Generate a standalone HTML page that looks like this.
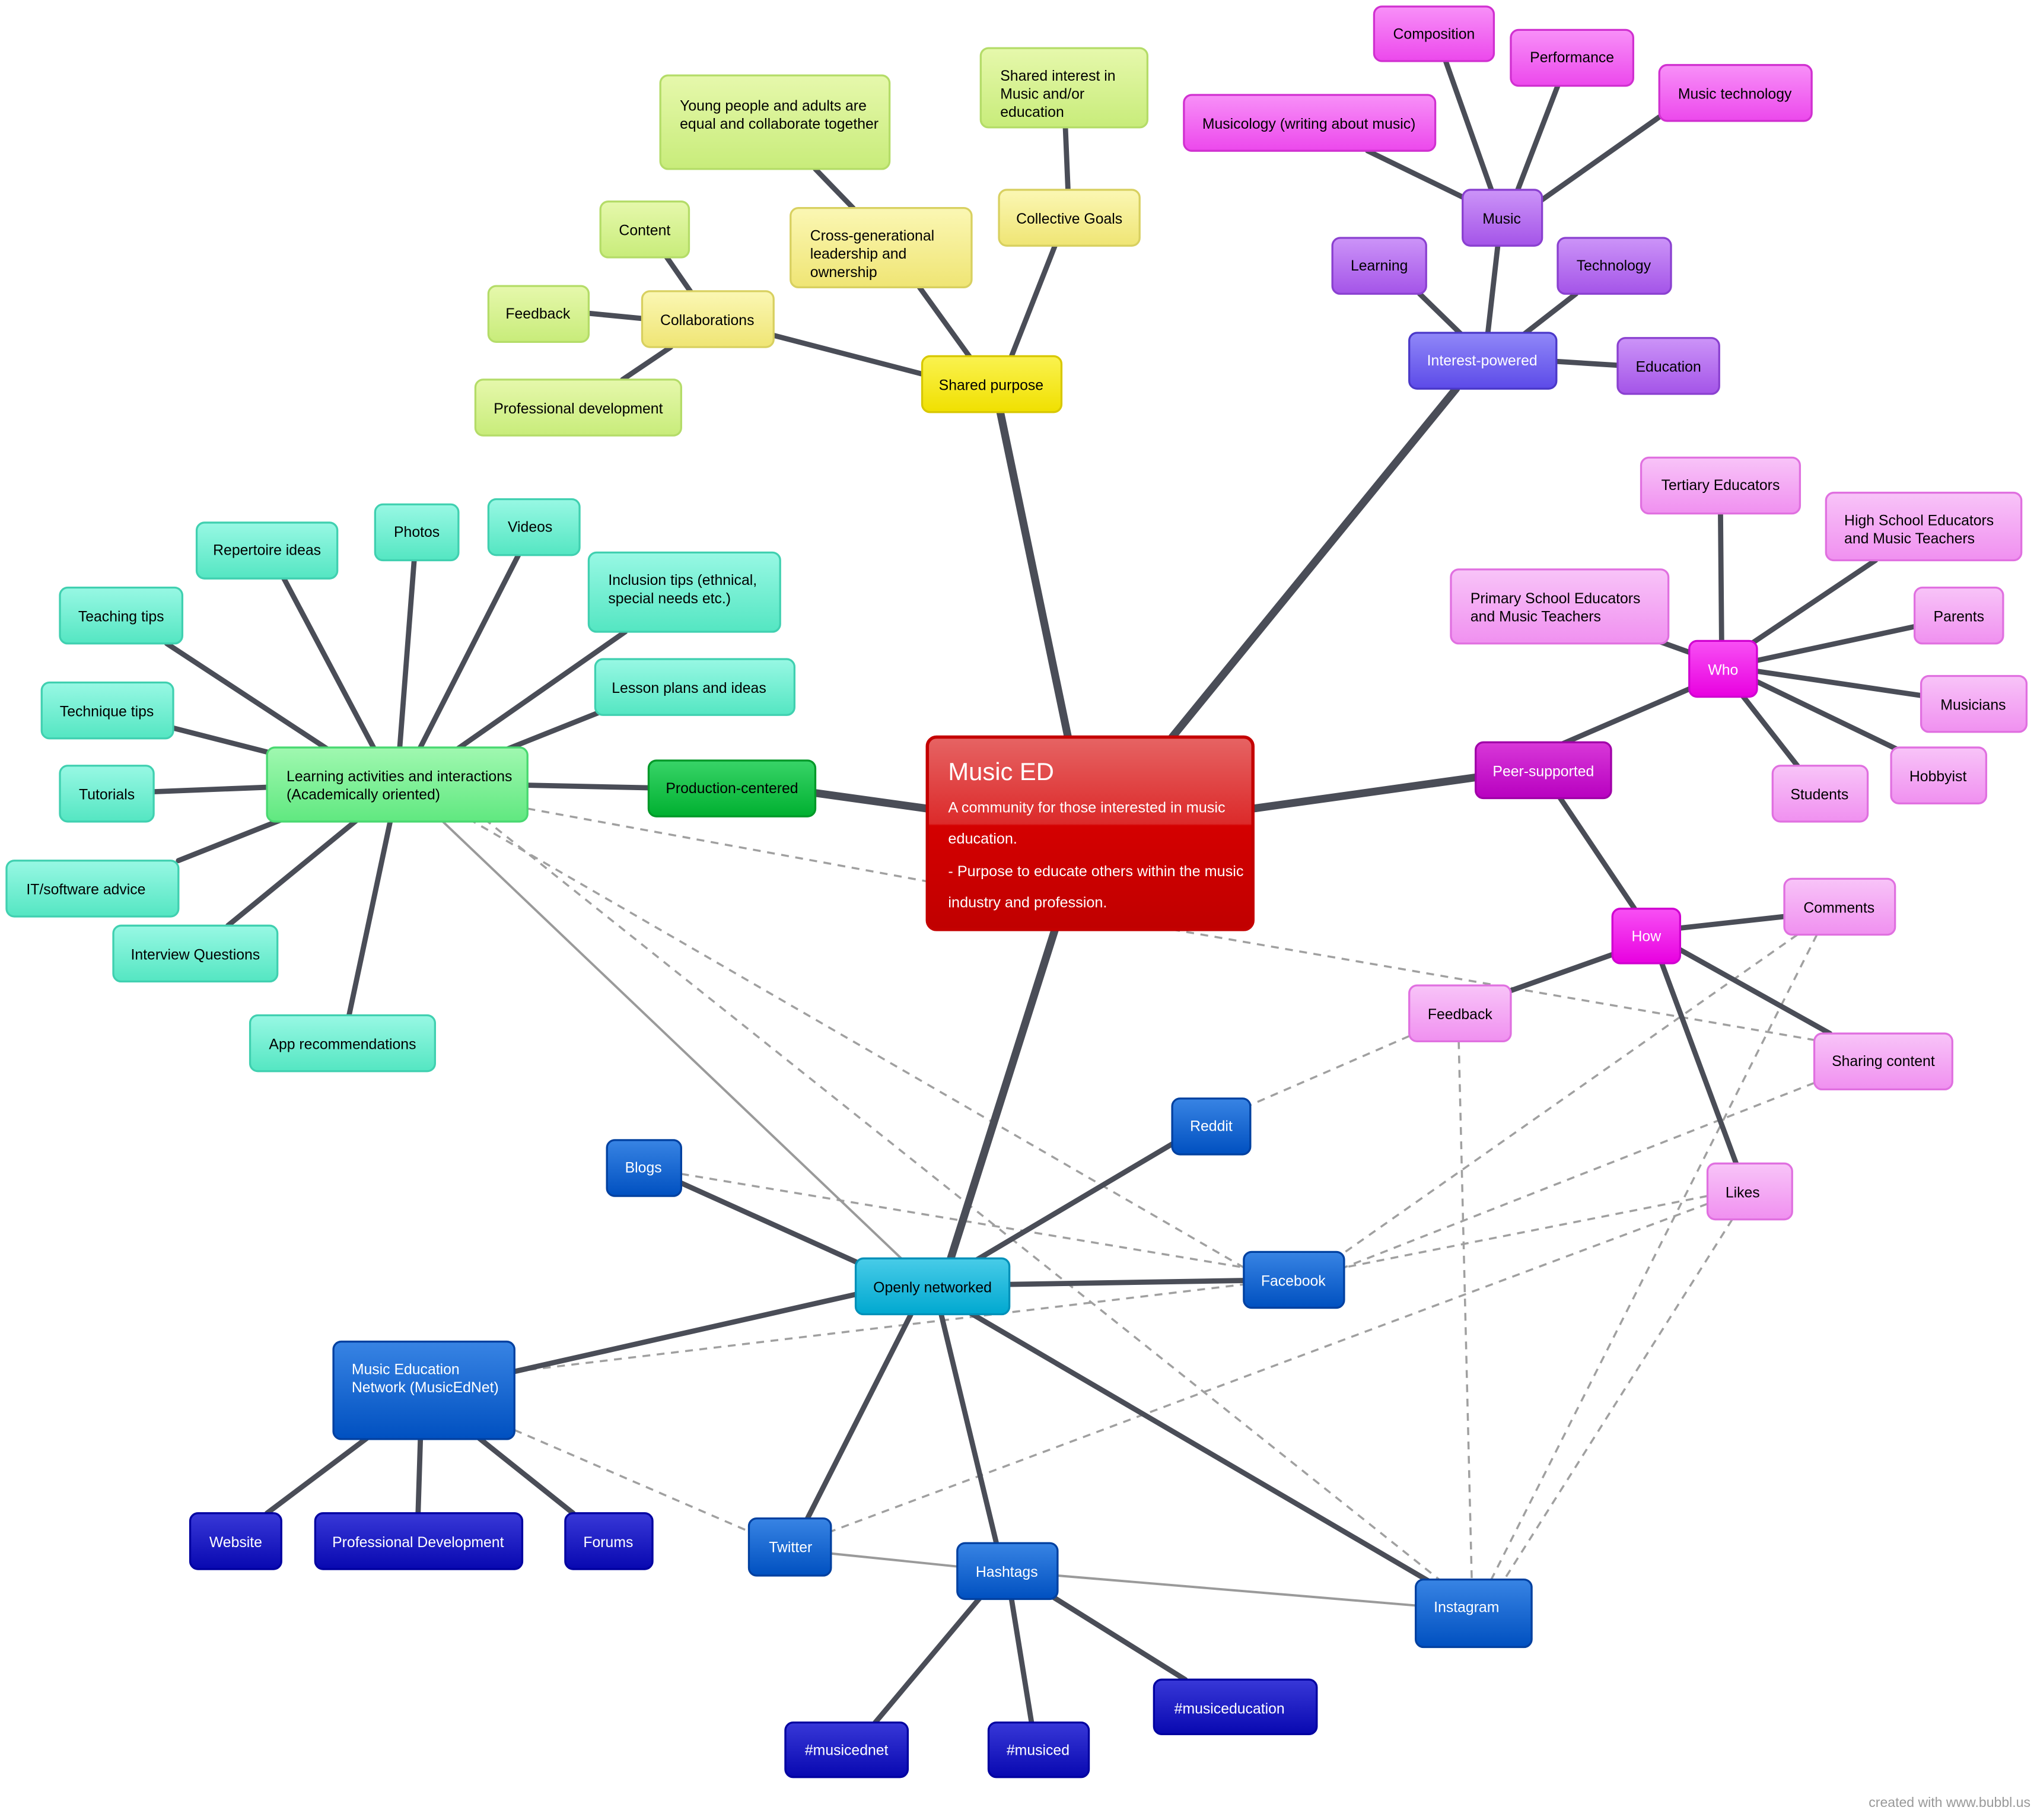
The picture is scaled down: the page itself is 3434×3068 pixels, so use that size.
<!DOCTYPE html>
<html><head><meta charset="utf-8"><style>
html,body{margin:0;padding:0;background:#fff;width:3434px;height:3068px;overflow:hidden}
svg{display:block}
text{font-family:"Liberation Sans",sans-serif;font-size:11.3px}
</style></head><body>
<svg width="3434" height="3068" viewBox="0 0 1564 1400" preserveAspectRatio="none">
<defs>
<linearGradient id="yel" x1="0" y1="0" x2="0" y2="1"><stop offset="0" stop-color="#fbf7b4"/><stop offset="1" stop-color="#efe574"/></linearGradient>
<linearGradient id="ybr" x1="0" y1="0" x2="0" y2="1"><stop offset="0" stop-color="#faf250"/><stop offset="1" stop-color="#f0e000"/></linearGradient>
<linearGradient id="lg" x1="0" y1="0" x2="0" y2="1"><stop offset="0" stop-color="#e6f8ac"/><stop offset="1" stop-color="#c8ec7a"/></linearGradient>
<linearGradient id="mag" x1="0" y1="0" x2="0" y2="1"><stop offset="0" stop-color="#f890f8"/><stop offset="1" stop-color="#ec48ec"/></linearGradient>
<linearGradient id="pur" x1="0" y1="0" x2="0" y2="1"><stop offset="0" stop-color="#cc94f8"/><stop offset="1" stop-color="#a454e8"/></linearGradient>
<linearGradient id="ip" x1="0" y1="0" x2="0" y2="1"><stop offset="0" stop-color="#9088f8"/><stop offset="1" stop-color="#5c4ae8"/></linearGradient>
<linearGradient id="pink" x1="0" y1="0" x2="0" y2="1"><stop offset="0" stop-color="#f8c4f8"/><stop offset="1" stop-color="#f090f0"/></linearGradient>
<linearGradient id="hot" x1="0" y1="0" x2="0" y2="1"><stop offset="0" stop-color="#f850f4"/><stop offset="1" stop-color="#e800e0"/></linearGradient>
<linearGradient id="peer" x1="0" y1="0" x2="0" y2="1"><stop offset="0" stop-color="#d838d8"/><stop offset="1" stop-color="#b800c0"/></linearGradient>
<linearGradient id="teal" x1="0" y1="0" x2="0" y2="1"><stop offset="0" stop-color="#98f8e4"/><stop offset="1" stop-color="#54e6c2"/></linearGradient>
<linearGradient id="lgr" x1="0" y1="0" x2="0" y2="1"><stop offset="0" stop-color="#a0f8b0"/><stop offset="1" stop-color="#60e880"/></linearGradient>
<linearGradient id="prod" x1="0" y1="0" x2="0" y2="1"><stop offset="0" stop-color="#38d468"/><stop offset="1" stop-color="#00b030"/></linearGradient>
<linearGradient id="blue" x1="0" y1="0" x2="0" y2="1"><stop offset="0" stop-color="#3884e4"/><stop offset="1" stop-color="#0050c0"/></linearGradient>
<linearGradient id="cyan" x1="0" y1="0" x2="0" y2="1"><stop offset="0" stop-color="#48cce8"/><stop offset="1" stop-color="#00a8d0"/></linearGradient>
<linearGradient id="db" x1="0" y1="0" x2="0" y2="1"><stop offset="0" stop-color="#3838d8"/><stop offset="1" stop-color="#0808b0"/></linearGradient>
<linearGradient id="red" x1="0" y1="0" x2="0" y2="1"><stop offset="0" stop-color="#e66464"/><stop offset="0.45" stop-color="#dc2a2a"/><stop offset="0.46" stop-color="#d40000"/><stop offset="1" stop-color="#c00000"/></linearGradient>
</defs>

<g stroke="#a0a0a0" stroke-width="1.6" fill="none" stroke-dasharray="6,5">
<line x1="405" y1="622" x2="712" y2="678"/>
<line x1="360" y1="630" x2="955" y2="975"/>
<line x1="372" y1="630" x2="1105" y2="1215"/>
<line x1="900" y1="715" x2="1393" y2="800"/>
<line x1="1082" y1="797" x2="960" y2="850"/>
<line x1="1120" y1="801" x2="1130" y2="1215"/>
<line x1="1380" y1="719" x2="1030" y2="965"/>
<line x1="1395" y1="719" x2="1145" y2="1215"/>
<line x1="1393" y1="833" x2="1032" y2="975"/>
<line x1="1311" y1="920" x2="1032" y2="975"/>
<line x1="1330" y1="938" x2="1155" y2="1215"/>
<line x1="1311" y1="926" x2="638" y2="1178"/>
<line x1="523" y1="903" x2="955" y2="975"/>
<line x1="395" y1="1055" x2="955" y2="988"/>
<line x1="395" y1="1100" x2="575" y2="1178"/>
</g>
<g stroke="#9a9a9a" stroke-width="1.8" fill="none">
<line x1="340" y1="632" x2="692" y2="968"/>
<line x1="638" y1="1195" x2="735" y2="1205"/>
<line x1="812" y1="1212" x2="1087" y2="1235"/>
</g>

<g stroke="#4a4d57" stroke-linecap="round" fill="none">
<g stroke-width="6">
<line x1="820" y1="567" x2="768" y2="317"/>
<line x1="900" y1="567" x2="1118" y2="299"/>
<line x1="962" y1="622" x2="1133" y2="598"/>
<line x1="712" y1="622" x2="626" y2="610"/>
<line x1="810" y1="715" x2="730" y2="968"/>
</g>
<g stroke-width="4">
<line x1="768" y1="296" x2="810" y2="189"/>
<line x1="760" y1="296" x2="706" y2="221"/>
<line x1="740" y1="296" x2="594" y2="258"/>
<line x1="820" y1="146" x2="818" y2="98"/>
<line x1="655" y1="160" x2="626" y2="130"/>
<line x1="530" y1="224" x2="512" y2="198"/>
<line x1="493" y1="245" x2="452" y2="241"/>
<line x1="515" y1="267" x2="478" y2="292"/>
<line x1="1140" y1="277" x2="1150" y2="189"/>
<line x1="1130" y1="265" x2="1090" y2="226"/>
<line x1="1160" y1="265" x2="1210" y2="226"/>
<line x1="1195" y1="278" x2="1242" y2="281"/>
<line x1="1150" y1="160" x2="1110" y2="47"/>
<line x1="1160" y1="160" x2="1196" y2="66"/>
<line x1="1175" y1="160" x2="1274" y2="90"/>
<line x1="1130" y1="155" x2="1050" y2="116"/>
<line x1="1200" y1="572" x2="1297" y2="530"/>
<line x1="1198" y1="614" x2="1255" y2="699"/>
<line x1="1322" y1="510" x2="1321" y2="395"/>
<line x1="1330" y1="505" x2="1440" y2="431"/>
<line x1="1320" y1="510" x2="1270" y2="492"/>
<line x1="1340" y1="510" x2="1470" y2="482"/>
<line x1="1340" y1="515" x2="1475" y2="535"/>
<line x1="1340" y1="520" x2="1460" y2="578"/>
<line x1="1330" y1="525" x2="1380" y2="589"/>
<line x1="1280" y1="715" x2="1370" y2="705"/>
<line x1="1250" y1="730" x2="1160" y2="762"/>
<line x1="1280" y1="725" x2="1405" y2="795"/>
<line x1="1270" y1="725" x2="1333" y2="895"/>
<line x1="498" y1="606" x2="405" y2="604"/>
<line x1="300" y1="600" x2="218" y2="445"/>
<line x1="305" y1="600" x2="318" y2="431"/>
<line x1="310" y1="600" x2="398" y2="427"/>
<line x1="320" y1="598" x2="480" y2="486"/>
<line x1="330" y1="600" x2="460" y2="548"/>
<line x1="280" y1="595" x2="128" y2="495"/>
<line x1="250" y1="590" x2="133" y2="560"/>
<line x1="220" y1="605" x2="118" y2="609"/>
<line x1="230" y1="625" x2="137" y2="662"/>
<line x1="275" y1="630" x2="175" y2="712"/>
<line x1="300" y1="630" x2="268" y2="781"/>
<line x1="700" y1="990" x2="523" y2="910"/>
<line x1="740" y1="975" x2="900" y2="880"/>
<line x1="775" y1="988" x2="955" y2="985"/>
<line x1="660" y1="995" x2="395" y2="1055"/>
<line x1="705" y1="1000" x2="620" y2="1168"/>
<line x1="720" y1="1000" x2="765" y2="1187"/>
<line x1="745" y1="1010" x2="1100" y2="1218"/>
<line x1="290" y1="1100" x2="205" y2="1164"/>
<line x1="323" y1="1100" x2="321" y2="1164"/>
<line x1="360" y1="1100" x2="440" y2="1164"/>
<line x1="760" y1="1220" x2="672" y2="1325"/>
<line x1="775" y1="1220" x2="792" y2="1325"/>
<line x1="795" y1="1220" x2="910" y2="1292"/>
</g>
</g>

<g stroke-width="1.5">
<rect x="712" y="567" width="250" height="148" rx="7" fill="url(#red)" stroke="#c40000" stroke-width="2.5"/>
<text x="728" y="600" fill="#fff" style="font-size:19px">Music ED</text>
<text x="728" y="625" fill="#fff" style="font-size:11.5px">A community for those interested in music</text>
<text x="728" y="649" fill="#fff" style="font-size:11.5px">education.</text>
<text x="728" y="674" fill="#fff" style="font-size:11.5px">- Purpose to educate others within the music</text>
<text x="728" y="698" fill="#fff" style="font-size:11.5px">industry and profession.</text>

<rect x="708" y="274" width="107" height="43" rx="6" fill="url(#ybr)" stroke="#d8c800"/>
<text x="761" y="300" text-anchor="middle">Shared purpose</text>
<rect x="767" y="146" width="108" height="43" rx="6" fill="url(#yel)" stroke="#d8d060"/>
<text x="821" y="172" text-anchor="middle">Collective Goals</text>
<rect x="607" y="160" width="139" height="61" rx="6" fill="url(#yel)" stroke="#d8d060"/>
<text x="622" y="185">Cross-generational</text><text x="622" y="199">leadership and</text><text x="622" y="213">ownership</text>
<rect x="493" y="224" width="101" height="43" rx="6" fill="url(#yel)" stroke="#d8d060"/>
<text x="543" y="250" text-anchor="middle">Collaborations</text>

<rect x="753" y="37" width="128" height="61" rx="6" fill="url(#lg)" stroke="#b4dc68"/>
<text x="768" y="62">Shared interest in</text><text x="768" y="76">Music and/or</text><text x="768" y="90">education</text>
<rect x="507" y="58" width="176" height="72" rx="6" fill="url(#lg)" stroke="#b4dc68"/>
<text x="522" y="85">Young people and adults are</text><text x="522" y="99">equal and collaborate together</text>
<rect x="461" y="155" width="68" height="43" rx="6" fill="url(#lg)" stroke="#b4dc68"/>
<text x="495" y="181" text-anchor="middle">Content</text>
<rect x="375" y="220" width="77" height="43" rx="6" fill="url(#lg)" stroke="#b4dc68"/>
<text x="413" y="245" text-anchor="middle">Feedback</text>
<rect x="365" y="292" width="158" height="43" rx="6" fill="url(#lg)" stroke="#b4dc68"/>
<text x="444" y="318" text-anchor="middle">Professional development</text>

<rect x="1055" y="5" width="92" height="42" rx="6" fill="url(#mag)" stroke="#d030d0"/>
<text x="1101" y="30" text-anchor="middle">Composition</text>
<rect x="1160" y="23" width="94" height="43" rx="6" fill="url(#mag)" stroke="#d030d0"/>
<text x="1207" y="48" text-anchor="middle">Performance</text>
<rect x="1274" y="50" width="117" height="43" rx="6" fill="url(#mag)" stroke="#d030d0"/>
<text x="1332" y="76" text-anchor="middle">Music technology</text>
<rect x="909" y="73" width="193" height="43" rx="6" fill="url(#mag)" stroke="#d030d0"/>
<text x="1005" y="99" text-anchor="middle">Musicology (writing about music)</text>
<rect x="1123" y="146" width="61" height="43" rx="6" fill="url(#pur)" stroke="#8a40d0"/>
<text x="1153" y="172" text-anchor="middle">Music</text>
<rect x="1023" y="183" width="72" height="43" rx="6" fill="url(#pur)" stroke="#8a40d0"/>
<text x="1059" y="208" text-anchor="middle">Learning</text>
<rect x="1196" y="183" width="87" height="43" rx="6" fill="url(#pur)" stroke="#8a40d0"/>
<text x="1239" y="208" text-anchor="middle">Technology</text>
<rect x="1082" y="256" width="113" height="43" rx="6" fill="url(#ip)" stroke="#4a38c8"/>
<text x="1138" y="281" text-anchor="middle" fill="#fff">Interest-powered</text>
<rect x="1242" y="260" width="78" height="43" rx="6" fill="url(#pur)" stroke="#8a40d0"/>
<text x="1281" y="286" text-anchor="middle">Education</text>

<rect x="1260" y="352" width="122" height="43" rx="6" fill="url(#pink)" stroke="#e070e0"/>
<text x="1321" y="377" text-anchor="middle">Tertiary Educators</text>
<rect x="1402" y="379" width="150" height="52" rx="6" fill="url(#pink)" stroke="#e070e0"/>
<text x="1416" y="404">High School Educators</text><text x="1416" y="418">and Music Teachers</text>
<rect x="1114" y="438" width="167" height="57" rx="6" fill="url(#pink)" stroke="#e070e0"/>
<text x="1129" y="464">Primary School Educators</text><text x="1129" y="478">and Music Teachers</text>
<rect x="1297" y="493" width="52" height="43" rx="6" fill="url(#hot)" stroke="#d000d0"/>
<text x="1323" y="519" text-anchor="middle" fill="#fff">Who</text>
<rect x="1470" y="452" width="68" height="43" rx="6" fill="url(#pink)" stroke="#e070e0"/>
<text x="1504" y="478" text-anchor="middle">Parents</text>
<rect x="1475" y="520" width="81" height="43" rx="6" fill="url(#pink)" stroke="#e070e0"/>
<text x="1515" y="546" text-anchor="middle">Musicians</text>
<rect x="1452" y="575" width="73" height="43" rx="6" fill="url(#pink)" stroke="#e070e0"/>
<text x="1488" y="601" text-anchor="middle">Hobbyist</text>
<rect x="1361" y="589" width="73" height="43" rx="6" fill="url(#pink)" stroke="#e070e0"/>
<text x="1397" y="615" text-anchor="middle">Students</text>
<rect x="1133" y="571" width="104" height="43" rx="6" fill="url(#peer)" stroke="#a000a8"/>
<text x="1185" y="597" text-anchor="middle" fill="#fff">Peer-supported</text>
<rect x="1238" y="699" width="52" height="42" rx="6" fill="url(#hot)" stroke="#d000d0"/>
<text x="1264" y="724" text-anchor="middle" fill="#fff">How</text>
<rect x="1370" y="676" width="85" height="43" rx="6" fill="url(#pink)" stroke="#e070e0"/>
<text x="1412" y="702" text-anchor="middle">Comments</text>
<rect x="1082" y="758" width="78" height="43" rx="6" fill="url(#pink)" stroke="#e070e0"/>
<text x="1121" y="784" text-anchor="middle">Feedback</text>
<rect x="1393" y="795" width="106" height="43" rx="6" fill="url(#pink)" stroke="#e070e0"/>
<text x="1446" y="820" text-anchor="middle">Sharing content</text>
<rect x="1311" y="895" width="65" height="43" rx="6" fill="url(#pink)" stroke="#e070e0"/>
<text x="1338" y="921" text-anchor="middle">Likes</text>

<rect x="151" y="402" width="108" height="43" rx="6" fill="url(#teal)" stroke="#40d0b0"/>
<text x="205" y="427" text-anchor="middle">Repertoire ideas</text>
<rect x="288" y="388" width="64" height="43" rx="6" fill="url(#teal)" stroke="#40d0b0"/>
<text x="320" y="413" text-anchor="middle">Photos</text>
<rect x="375" y="384" width="70" height="43" rx="6" fill="url(#teal)" stroke="#40d0b0"/>
<text x="407" y="409" text-anchor="middle">Videos</text>
<rect x="46" y="452" width="94" height="43" rx="6" fill="url(#teal)" stroke="#40d0b0"/>
<text x="93" y="478" text-anchor="middle">Teaching tips</text>
<rect x="452" y="425" width="147" height="61" rx="6" fill="url(#teal)" stroke="#40d0b0"/>
<text x="467" y="450">Inclusion tips (ethnical,</text><text x="467" y="464">special needs etc.)</text>
<rect x="32" y="525" width="101" height="43" rx="6" fill="url(#teal)" stroke="#40d0b0"/>
<text x="82" y="551" text-anchor="middle">Technique tips</text>
<rect x="457" y="507" width="153" height="43" rx="6" fill="url(#teal)" stroke="#40d0b0"/>
<text x="529" y="533" text-anchor="middle">Lesson plans and ideas</text>
<rect x="46" y="589" width="72" height="43" rx="6" fill="url(#teal)" stroke="#40d0b0"/>
<text x="82" y="615" text-anchor="middle">Tutorials</text>
<rect x="5" y="662" width="132" height="43" rx="6" fill="url(#teal)" stroke="#40d0b0"/>
<text x="66" y="688" text-anchor="middle">IT/software advice</text>
<rect x="87" y="712" width="126" height="43" rx="6" fill="url(#teal)" stroke="#40d0b0"/>
<text x="150" y="738" text-anchor="middle">Interview Questions</text>
<rect x="192" y="781" width="142" height="43" rx="6" fill="url(#teal)" stroke="#40d0b0"/>
<text x="263" y="807" text-anchor="middle">App recommendations</text>
<rect x="205" y="575" width="200" height="57" rx="6" fill="url(#lgr)" stroke="#48d870"/>
<text x="220" y="601">Learning activities and interactions</text><text x="220" y="615">(Academically oriented)</text>
<rect x="498" y="585" width="128" height="43" rx="6" fill="url(#prod)" stroke="#009828"/>
<text x="562" y="610" text-anchor="middle">Production-centered</text>

<rect x="900" y="845" width="60" height="43" rx="6" fill="url(#blue)" stroke="#0040a0"/>
<text x="930" y="870" text-anchor="middle" fill="#fff">Reddit</text>
<rect x="466" y="877" width="57" height="43" rx="6" fill="url(#blue)" stroke="#0040a0"/>
<text x="494" y="902" text-anchor="middle" fill="#fff">Blogs</text>
<rect x="657" y="968" width="118" height="43" rx="6" fill="url(#cyan)" stroke="#0090b8"/>
<text x="716" y="994" text-anchor="middle">Openly networked</text>
<rect x="955" y="963" width="77" height="43" rx="6" fill="url(#blue)" stroke="#0040a0"/>
<text x="993" y="989" text-anchor="middle" fill="#fff">Facebook</text>
<rect x="256" y="1032" width="139" height="75" rx="6" fill="url(#blue)" stroke="#0040a0"/>
<text x="270" y="1057" fill="#fff">Music Education</text><text x="270" y="1071" fill="#fff">Network (MusicEdNet)</text>
<rect x="146" y="1164" width="70" height="43" rx="6" fill="url(#db)" stroke="#0000a0"/>
<text x="181" y="1190" text-anchor="middle" fill="#fff">Website</text>
<rect x="242" y="1164" width="159" height="43" rx="6" fill="url(#db)" stroke="#0000a0"/>
<text x="321" y="1190" text-anchor="middle" fill="#fff">Professional Development</text>
<rect x="434" y="1164" width="67" height="43" rx="6" fill="url(#db)" stroke="#0000a0"/>
<text x="467" y="1190" text-anchor="middle" fill="#fff">Forums</text>
<rect x="575" y="1168" width="63" height="44" rx="6" fill="url(#blue)" stroke="#0040a0"/>
<text x="607" y="1194" text-anchor="middle" fill="#fff">Twitter</text>
<rect x="735" y="1187" width="77" height="43" rx="6" fill="url(#blue)" stroke="#0040a0"/>
<text x="773" y="1213" text-anchor="middle" fill="#fff">Hashtags</text>
<rect x="1087" y="1215" width="89" height="52" rx="6" fill="url(#blue)" stroke="#0040a0"/>
<text x="1126" y="1240" text-anchor="middle" fill="#fff">Instagram</text>
<rect x="603" y="1325" width="94" height="42" rx="6" fill="url(#db)" stroke="#0000a0"/>
<text x="650" y="1350" text-anchor="middle" fill="#fff">#musicednet</text>
<rect x="759" y="1325" width="77" height="42" rx="6" fill="url(#db)" stroke="#0000a0"/>
<text x="797" y="1350" text-anchor="middle" fill="#fff">#musiced</text>
<rect x="886" y="1292" width="125" height="42" rx="6" fill="url(#db)" stroke="#0000a0"/>
<text x="944" y="1318" text-anchor="middle" fill="#fff">#musiceducation</text>
</g>
<text x="1559" y="1390" text-anchor="end" fill="#999" style="font-size:10.5px">created with www.bubbl.us</text>
</svg>
</body></html>
